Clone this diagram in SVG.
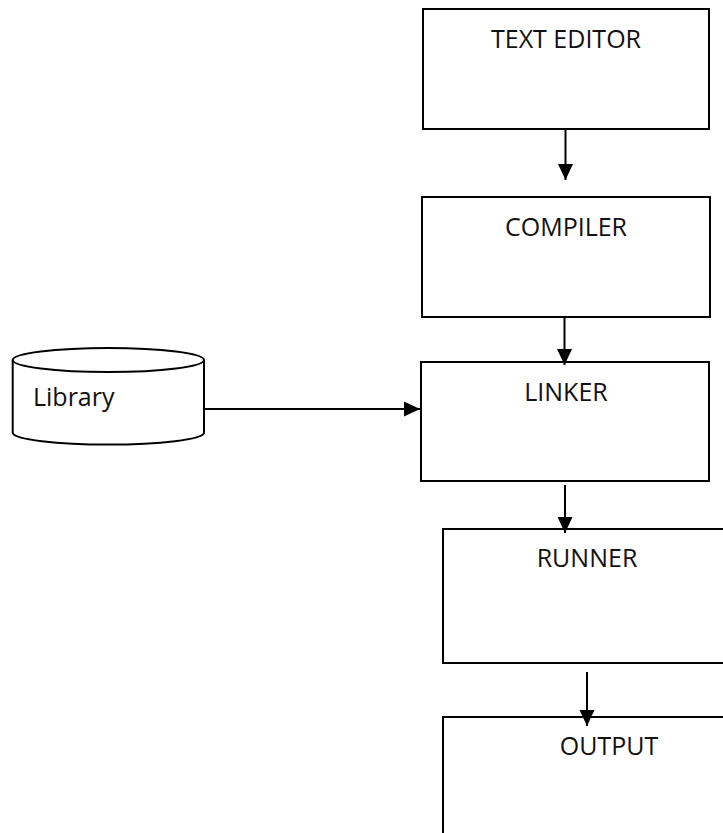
<svg xmlns="http://www.w3.org/2000/svg" width="723" height="833" viewBox="0 0 723 833">
<style>
.box{fill:#fff;stroke:#000;stroke-width:2}
.lbl{font-family:"Open Sans","Liberation Sans",sans-serif;font-size:25px;fill:#111}
.c{text-anchor:middle}
.conn{stroke:#000;stroke-width:2;fill:none}
</style>
<defs>
<marker id="ah" markerUnits="userSpaceOnUse" markerWidth="16" markerHeight="16" viewBox="0 0 16 16" refX="16" refY="8" orient="auto">
<path d="M0,0.5 L16,8 L0,15.5 Z" fill="#000"/>
</marker>
</defs>
<rect width="723" height="833" fill="#fff"/>
<g id="text-editor">
<rect class="box" x="423" y="9" width="286" height="120"/>
<text class="lbl c" x="566" y="48">TEXT EDITOR</text>
</g>
<g id="compiler">
<rect class="box" x="422" y="197" width="288" height="120"/>
<text class="lbl c" x="566" y="236">COMPILER</text>
</g>
<g id="linker">
<rect class="box" x="421" y="362" width="288" height="119"/>
<text class="lbl c" x="566" y="401">LINKER</text>
</g>
<g id="runner">
<rect class="box" x="443" y="529" width="300" height="134"/>
<text class="lbl c" x="587" y="567">RUNNER</text>
</g>
<g id="output">
<rect class="box" x="443" y="717" width="300" height="140"/>
<text class="lbl c" x="609" y="755">OUTPUT</text>
</g>
<g id="library">
<path class="box" d="M12.7,360 V433 A95.7,12 0 0 0 204,433 V360"/>
<ellipse class="box" cx="108.35" cy="360" rx="95.65" ry="12"/>
<text class="lbl" x="33" y="406">Library</text>
</g>
<g id="connectors">
<line class="conn" x1="565.5" y1="130" x2="565.5" y2="180" marker-end="url(#ah)"/>
<line class="conn" x1="564.5" y1="317" x2="564.5" y2="365" marker-end="url(#ah)"/>
<line class="conn" x1="565" y1="485" x2="565" y2="533" marker-end="url(#ah)"/>
<line class="conn" x1="587" y1="672" x2="587" y2="726" marker-end="url(#ah)"/>
<line class="conn" x1="204" y1="409" x2="420" y2="409" marker-end="url(#ah)"/>
</g>
</svg>
